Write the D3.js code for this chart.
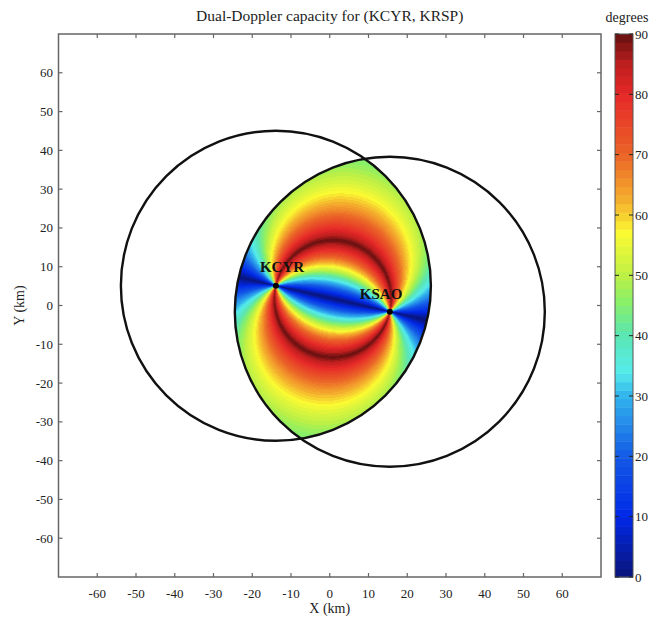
<!DOCTYPE html>
<html><head><meta charset="utf-8">
<script src="https://cdn.jsdelivr.net/npm/d3@7/dist/d3.min.js"></script>
<style>
html,body{margin:0;padding:0;background:#fff;}
svg text{font-family:"Liberation Serif","DejaVu Serif",serif;}
</style></head>
<body>
<script>
// ---- data ----
const title = "Dual-Doppler capacity for (KCYR, KRSP)";
const radarNames = ["KCYR", "KSAO"];
const radarX = [-13.9, 15.5];   // km
const radarY = [5.1, -1.6];     // km
const radarRange = [40, 40];    // km (coverage circle radius)
const xTicks = [-60, -50, -40, -30, -20, -10, 0, 10, 20, 30, 40, 50, 60];
const yTicks = [-60, -50, -40, -30, -20, -10, 0, 10, 20, 30, 40, 50, 60];
const cbTicks = [0, 10, 20, 30, 40, 50, 60, 70, 80, 90];
const cmapDeg = [0, 10, 20, 30, 34, 40, 46, 50, 57, 62, 70, 80, 85, 90];
const cmapColors = ["#0a1478", "#0028e6", "#145ae6", "#32b4ec", "#55ecec", "#5ae6b4",
  "#8cf064", "#bef046", "#fafa32", "#f5b42d", "#eb6428", "#e62828", "#be1e1e", "#641010"];
const nLevels = 64;

// ---- layout ----
const W = 652, H = 623;
const x0 = 58.5, x1 = 601, y0 = 34, y1 = 577;
const xS = d3.scaleLinear().domain([-70, 70]).range([x0, x1]);
const yS = d3.scaleLinear().domain([-70, 70]).range([y1, y0]);
const cbX = 615, cbW = 18;
const cbS = d3.scaleLinear().domain([0, 90]).range([y1, y0]);

const cInterp = d3.scaleLinear().domain(cmapDeg).range(cmapColors).interpolate(d3.interpolateRgb).clamp(true);
const lut = d3.range(nLevels).map(k => d3.rgb(cInterp((k + 0.5) * 90 / nLevels)));

const svg = d3.select("body").append("svg").attr("width", W).attr("height", H);

// ---- field ----
const pw = Math.round(x1 - x0), ph = Math.round(y1 - y0);
const cv = document.createElement("canvas");
cv.width = pw; cv.height = ph;
const ctx = cv.getContext("2d");
const img = ctx.createImageData(pw, ph);
for (let j = 0; j < ph; j++) {
  for (let i = 0; i < pw; i++) {
    const px = xS.invert(x0 + i + 0.5), py = yS.invert(y0 + j + 0.5);
    let inside = true;
    for (let r = 0; r < radarX.length; r++) {
      const dx = px - radarX[r], dy = py - radarY[r];
      if (dx * dx + dy * dy > radarRange[r] * radarRange[r]) inside = false;
    }
    if (!inside) continue;
    const ax = px - radarX[0], ay = py - radarY[0];
    const bx = px - radarX[1], by = py - radarY[1];
    const na = Math.hypot(ax, ay), nb = Math.hypot(bx, by);
    let c = (ax * bx + ay * by) / (na * nb || 1);
    c = Math.max(-1, Math.min(1, c));
    let ang = Math.acos(c) * 180 / Math.PI;
    if (ang > 90) ang = 180 - ang;
    const k = Math.min(nLevels - 1, Math.floor(ang / 90 * nLevels));
    const col = lut[k];
    const o = (j * pw + i) * 4;
    img.data[o] = col.r; img.data[o + 1] = col.g; img.data[o + 2] = col.b; img.data[o + 3] = 255;
  }
}
ctx.putImageData(img, 0, 0);
svg.append("image").attr("x", x0).attr("y", y0).attr("width", pw).attr("height", ph)
  .attr("href", cv.toDataURL());

// ---- coverage circles ----
svg.selectAll("circle.rng").data(radarX).enter().append("circle").attr("class", "rng")
  .attr("cx", (d, i) => xS(radarX[i])).attr("cy", (d, i) => yS(radarY[i]))
  .attr("r", (d, i) => xS(radarRange[i]) - xS(0))
  .attr("fill", "none").attr("stroke", "#111").attr("stroke-width", 2.4);

// ---- radar dots & labels ----
const labelDx = [-16, -30], labelDy = [-14, -13];
radarNames.forEach((n, i) => {
  svg.append("circle").attr("cx", xS(radarX[i])).attr("cy", yS(radarY[i])).attr("r", 3).attr("fill", "#000");
  svg.append("text").attr("x", xS(radarX[i]) + labelDx[i]).attr("y", yS(radarY[i]) + labelDy[i])
    .attr("font-size", 15).attr("font-weight", "bold").attr("fill", "#111").text(n);
});

// ---- frame & axes ----
const axCol = "#666";
svg.append("rect").attr("x", x0).attr("y", y0).attr("width", x1 - x0).attr("height", y1 - y0)
  .attr("fill", "none").attr("stroke", axCol).attr("stroke-width", 1.5);
const tl = 4;
svg.append("g").selectAll("line").data(xTicks).enter().append("line")
  .attr("x1", d => xS(d)).attr("x2", d => xS(d)).attr("y1", y1).attr("y2", y1 - tl).attr("stroke", axCol).attr("stroke-width", 1.2);
svg.append("g").selectAll("line").data(xTicks).enter().append("line")
  .attr("x1", d => xS(d)).attr("x2", d => xS(d)).attr("y1", y0).attr("y2", y0 + tl).attr("stroke", axCol).attr("stroke-width", 1.2);
svg.append("g").selectAll("line").data(yTicks).enter().append("line")
  .attr("y1", d => yS(d)).attr("y2", d => yS(d)).attr("x1", x0).attr("x2", x0 + tl).attr("stroke", axCol).attr("stroke-width", 1.2);
svg.append("g").selectAll("line").data(yTicks).enter().append("line")
  .attr("y1", d => yS(d)).attr("y2", d => yS(d)).attr("x1", x1).attr("x2", x1 - tl).attr("stroke", axCol).attr("stroke-width", 1.2);

svg.append("g").selectAll("text").data(xTicks).enter().append("text")
  .attr("x", d => xS(d)).attr("y", 598).attr("text-anchor", "middle").attr("font-size", 13).attr("fill", "#222")
  .text(d => d);
svg.append("g").selectAll("text").data(yTicks).enter().append("text")
  .attr("x", 53).attr("y", d => yS(d) + 4.5).attr("text-anchor", "end").attr("font-size", 13).attr("fill", "#222")
  .text(d => d);

svg.append("text").attr("x", (x0 + x1) / 2).attr("y", 613).attr("text-anchor", "middle").attr("font-size", 14).attr("fill", "#222").text("X (km)");
svg.append("text").attr("transform", `translate(24,${(y0 + y1) / 2}) rotate(-90)`).attr("text-anchor", "middle")
  .attr("font-size", 14).attr("fill", "#222").text("Y (km)");
svg.append("text").attr("x", (x0 + x1) / 2).attr("y", 21).attr("text-anchor", "middle").attr("font-size", 15.5).attr("fill", "#222").text(title);

// ---- colorbar ----
const cb = svg.append("g");
const bandH = (y1 - y0) / nLevels;
cb.selectAll("rect.band").data(d3.range(nLevels)).enter().append("rect").attr("class", "band")
  .attr("x", cbX).attr("width", cbW)
  .attr("y", k => cbS((k + 1) * 90 / nLevels)).attr("height", bandH + 0.5)
  .attr("fill", k => lut[k].formatHex());
cb.append("rect").attr("x", cbX).attr("y", y0).attr("width", cbW).attr("height", y1 - y0)
  .attr("fill", "none").attr("stroke", "#555").attr("stroke-width", 1);
cb.selectAll("line.l").data(cbTicks).enter().append("line")
  .attr("x1", cbX).attr("x2", cbX + 4).attr("y1", d => cbS(d)).attr("y2", d => cbS(d)).attr("stroke", "#222").attr("stroke-width", 1);
cb.selectAll("line.r").data(cbTicks).enter().append("line")
  .attr("x1", cbX + cbW - 4).attr("x2", cbX + cbW).attr("y1", d => cbS(d)).attr("y2", d => cbS(d)).attr("stroke", "#222").attr("stroke-width", 1);
cb.selectAll("text").data(cbTicks).enter().append("text")
  .attr("x", cbX + cbW + 2).attr("y", d => cbS(d) + 4.5).attr("font-size", 13).attr("fill", "#222").text(d => d);
svg.append("text").attr("x", 627).attr("y", 22).attr("text-anchor", "middle").attr("font-size", 14).attr("fill", "#222").text("degrees");
</script>
</body></html>
